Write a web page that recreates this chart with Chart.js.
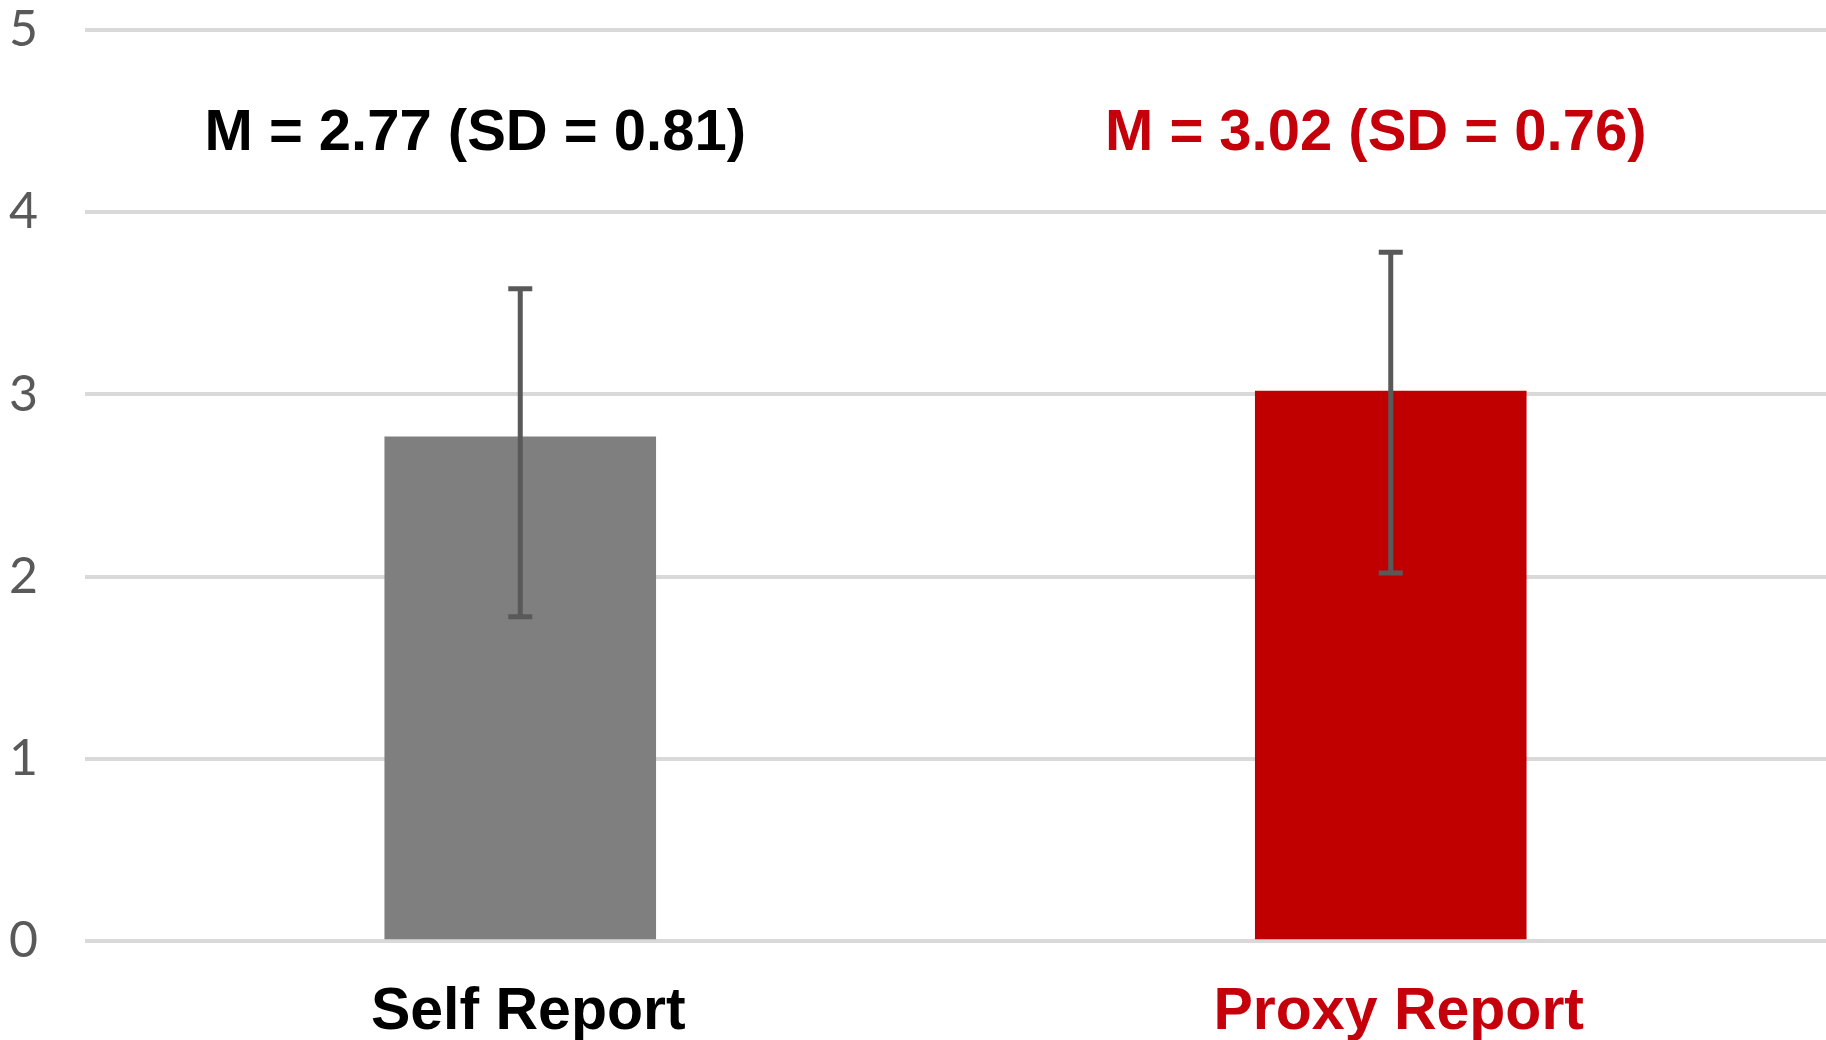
<!DOCTYPE html>
<html>
<head>
  <title>Self vs Proxy Report</title>
  <script src="https://cdn.jsdelivr.net/npm/chart.js"></script>
  <style>
    body { margin: 0; background: #fff; }
    #wrap { width: 1826px; height: 1040px; }
  </style>
</head>
<body>
  <div id="wrap"><canvas id="myChart"></canvas></div>

  <script>
    // values
    const categories = ['Self Report', 'Proxy Report'];
    const means = [2.77, 3.02];
    const errLow = [1.78, 2.02];
    const errHigh = [3.58, 3.78];
    const meanLabels = ['M = 2.77 (SD = 0.81)', 'M = 3.02 (SD = 0.76)'];
    const yTicks = [0, 1, 2, 3, 4, 5];

    const barColors = ['#7f7f7f', '#c00000'];
    const textColors = ['#000000', '#c5000b'];

    // draws the error bars and the "M = ..." text above each bar
    const extras = {
      id: 'extras',
      afterDatasetsDraw(chart) {
        const ctx = chart.ctx;
        const y = chart.scales.y;
        const bars = chart.getDatasetMeta(0).data;
        ctx.save();
        ctx.strokeStyle = '#595959';
        ctx.lineWidth = 5;
        bars.forEach((bar, i) => {
          const top = y.getPixelForValue(errHigh[i]);
          const bot = y.getPixelForValue(errLow[i]);
          ctx.beginPath();
          ctx.moveTo(bar.x, top);
          ctx.lineTo(bar.x, bot);
          ctx.moveTo(bar.x - 12, top);
          ctx.lineTo(bar.x + 12, top);
          ctx.moveTo(bar.x - 12, bot);
          ctx.lineTo(bar.x + 12, bot);
          ctx.stroke();
        });
        ctx.font = 'bold 58px "Liberation Sans", Arial, sans-serif';
        ctx.textAlign = 'center';
        ctx.textBaseline = 'middle';
        const shift = [-45, -15];
        bars.forEach((bar, i) => {
          ctx.fillStyle = textColors[i];
          ctx.fillText(meanLabels[i], bar.x + shift[i], y.getPixelForValue(4.43));
        });
        ctx.restore();
      }
    };

    const ctx = document.getElementById('myChart').getContext('2d');
    const myChart = new Chart(ctx, {
      type: 'bar',
      data: {
        labels: categories,
        datasets: [{
          data: means,
          backgroundColor: barColors,
          barPercentage: 0.312,
          categoryPercentage: 1
        }]
      },
      options: {
        responsive: true,
        maintainAspectRatio: false,
        animation: false,
        layout: { padding: { left: 9, top: 0, right: 0, bottom: -8 } },
        plugins: {
          legend: { display: false },
          tooltip: { enabled: false }
        },
        scales: {
          x: {
            grid: { display: false, drawTicks: true, tickLength: 36, tickColor: 'transparent' },
            border: { display: false },
            ticks: {
              padding: 0,
              labelOffset: 8,
              color: textColors,
              font: { family: '"Liberation Sans", Arial, sans-serif', size: 59, weight: 'bold' }
            }
          },
          y: {
            min: 0,
            max: 5,
            afterBuildTicks: axis => { axis.ticks = yTicks.map(v => ({ value: v })); },
            grid: { color: '#d9d9d9', lineWidth: 4, drawTicks: true, tickLength: 47, tickColor: 'transparent' },
            border: { display: false },
            ticks: {
              padding: 0,
              color: '#595959',
              font: { family: 'Lato, "Open Sans", sans-serif', size: 50 }
            }
          }
        }
      },
      plugins: [extras]
    });
  </script>
</body>
</html>
